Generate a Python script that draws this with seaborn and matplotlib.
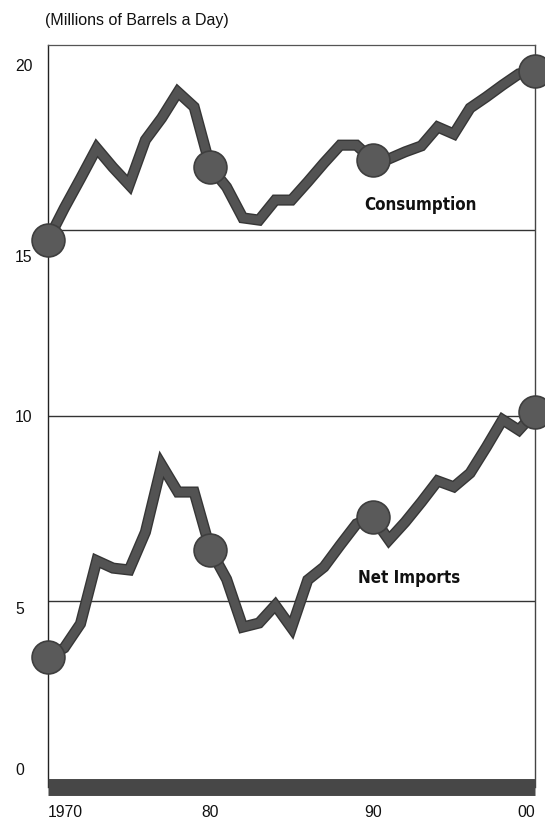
import matplotlib
matplotlib.use("Agg")
import matplotlib.pyplot as plt
import matplotlib.patheffects as pe
import pandas as pd
import seaborn as sns

# U.S. oil consumption and net imports, millions of barrels a day
years = list(range(1970, 2001))
consumption = [14.74, 15.60, 16.40, 17.22, 16.70, 16.23, 17.44, 18.03, 18.73, 18.33,
               16.71, 16.17, 15.34, 15.28, 15.82, 15.82, 16.31, 16.82, 17.30, 17.30,
               16.90, 16.93, 17.12, 17.28, 17.79, 17.60, 18.30, 18.60, 18.92, 19.22, 19.30]
net_imports = [3.50, 3.75, 4.40, 6.10, 5.90, 5.85, 6.87, 8.68, 7.95, 7.95,
               6.40, 5.60, 4.31, 4.42, 4.90, 4.29, 5.58, 5.93, 6.52, 7.09,
               7.28, 6.66, 7.14, 7.68, 8.25, 8.09, 8.46, 9.16, 9.90, 9.62, 10.10]

x_ticks = [1970, 1980, 1990, 2000]
x_tick_labels = ["1970", "80", "90", "00"]
y_ticks = [0, 5, 10, 15, 20]
y_tick_labels = ["0", "5", "10", "15", "20"]
grid_values = [5, 10, 15]
series_labels = {"consumption": "Consumption", "net_imports": "Net Imports"}

df = pd.DataFrame({"year": years, "consumption": consumption, "net_imports": net_imports})
decades = df[df["year"] % 10 == 0]

sns.set_theme(style="white")
plt.rcParams["font.family"] = ["Liberation Sans", "DejaVu Sans"]

fig = plt.figure(figsize=(5.45, 8.24), dpi=100)
fig.patch.set_facecolor("white")
ax = fig.add_axes([0.0881, 0.0449, 0.8936, 0.9005])
ax.set_facecolor("white")

ax.set_xlim(1970, 2000)
ax.set_ylim(0, 20)

for v in grid_values:
    ax.axhline(v, color="#333333", lw=1.0, zorder=1)

line_color = "#535353"
stroke = [pe.Stroke(linewidth=8.0, foreground="#363636"), pe.Normal()]
for col in ["consumption", "net_imports"]:
    sns.lineplot(data=df, x="year", y=col, ax=ax, color=line_color, lw=6.0,
                 solid_joinstyle="miter", solid_capstyle="butt",
                 path_effects=stroke, zorder=3, legend=False)
    sns.scatterplot(data=decades, x="year", y=col, ax=ax, s=560,
                    color="#5a5a5a", edgecolor="#3e3e3e", linewidth=1.2,
                    zorder=4, legend=False)
for coll in ax.collections:
    coll.set_clip_on(False)

# series captions in a bold condensed face
label_font = dict(family=["DejaVu Sans"], fontstretch="condensed",
                  fontweight="bold", fontsize=12.2, color="#111111")
ax.text(1989.5, 15.69, series_labels["consumption"], ha="left", va="center", **label_font)
ax.text(1989.1, 5.63, series_labels["net_imports"], ha="left", va="center", **label_font)

# axis frame
for side in ["left", "right", "top"]:
    ax.spines[side].set_visible(True)
ax.spines["left"].set_color("#222222")
ax.spines["left"].set_linewidth(1.0)
ax.spines["right"].set_color("#444444")
ax.spines["right"].set_linewidth(1.0)
ax.spines["top"].set_color("#555555")
ax.spines["top"].set_linewidth(0.9)
ax.spines["bottom"].set_color("#474747")
ax.spines["bottom"].set_linewidth(12.2)
ax.spines["bottom"].set_capstyle("butt")

ax.set_xlabel("")
ax.set_ylabel("")
ax.set_xticks(x_ticks)
ax.set_xticklabels(x_tick_labels, fontsize=11.3, color="#111111")
ax.tick_params(axis="x", length=0, pad=13)
labels = ax.get_xticklabels()
labels[0].set_ha("left")
labels[-1].set_ha("right")

# y labels sit left-aligned in the margin
ax.set_yticks([])
label_nudge_px = [17, -8.5, -2, -27.5, -22]
for v, txt, dy in zip(y_ticks, y_tick_labels, label_nudge_px):
    ax.annotate(txt, xy=(0, v), xycoords=ax.get_yaxis_transform(),
                xytext=(-33, dy), textcoords="offset pixels",
                ha="left", va="center", fontsize=11.3, color="#111111",
                annotation_clip=False)

fig.text(45 / 545, 1 - 21 / 824, "(Millions of Barrels a Day)", ha="left", va="center",
         fontsize=11.5, color="#111111")

fig.savefig("out.png", dpi=100, facecolor="white")
